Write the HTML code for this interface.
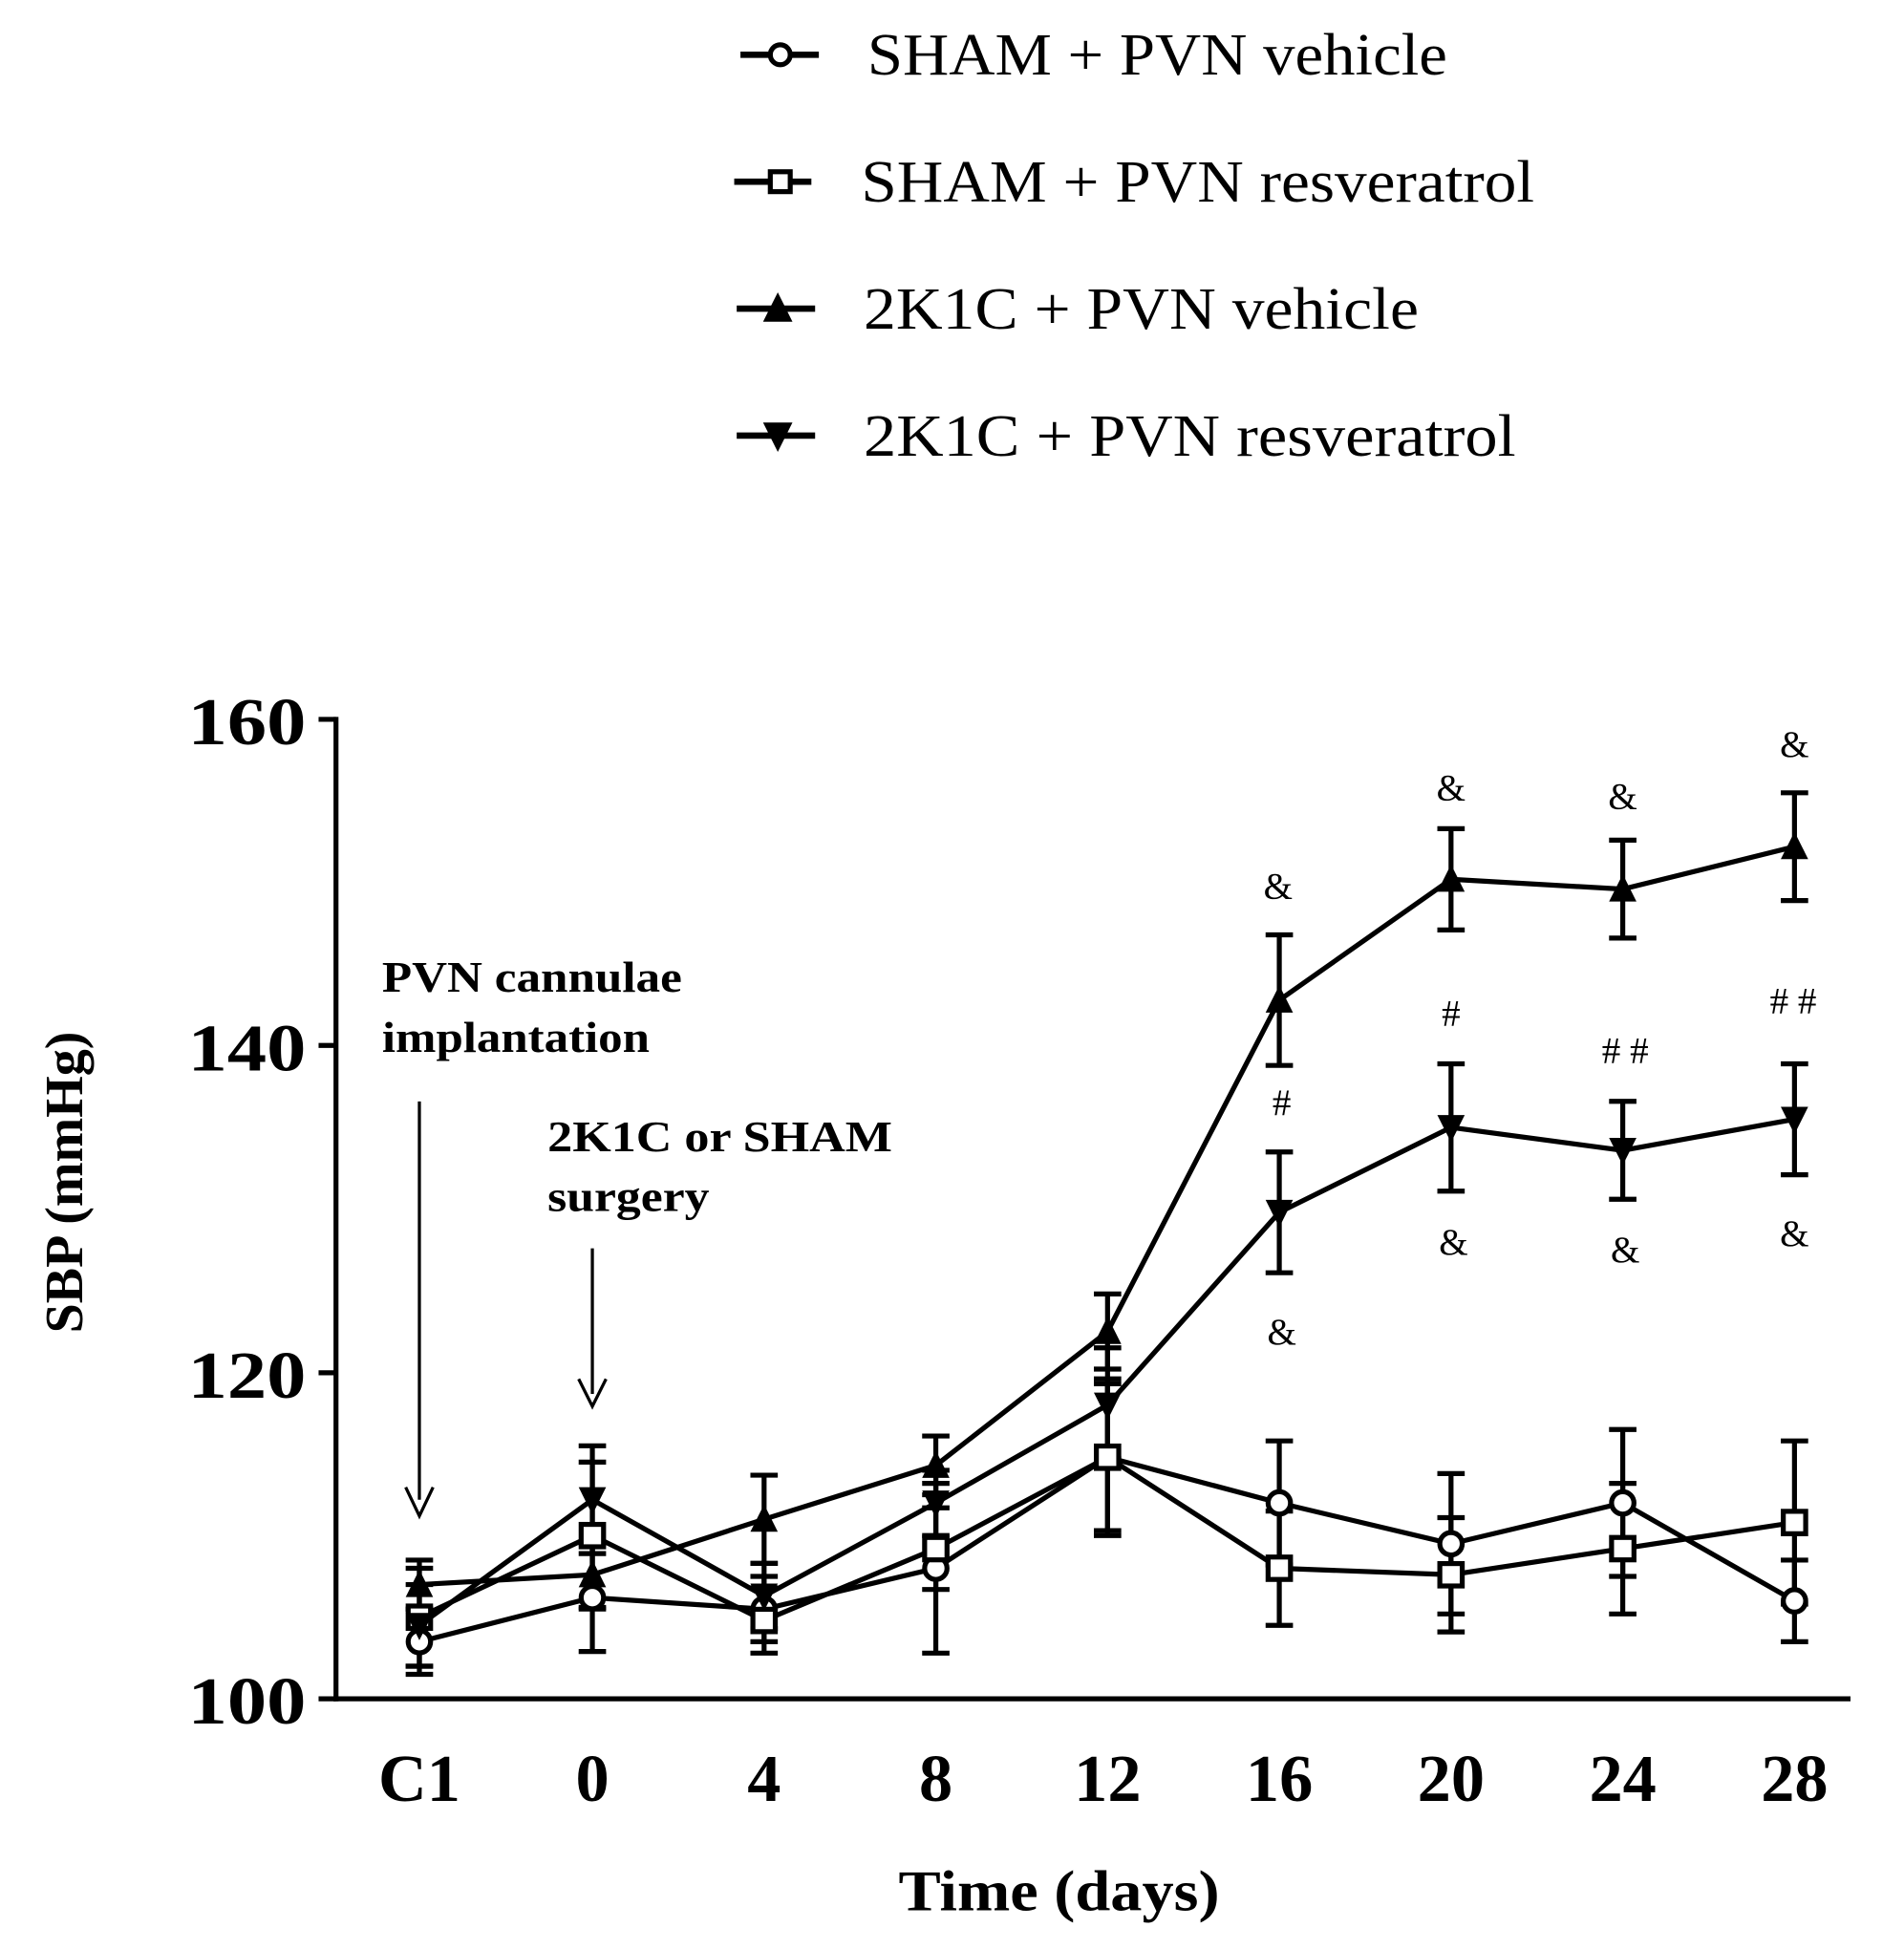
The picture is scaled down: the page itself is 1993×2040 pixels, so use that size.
<!DOCTYPE html>
<html><head><meta charset="utf-8"><style>
html,body{margin:0;padding:0;background:#fff;}
svg{display:block;}
text{font-family:"Liberation Serif",serif;fill:#000;}
</style></head><body>
<svg id="s" width="1993" height="2040" viewBox="0 0 1530 1566" preserveAspectRatio="none" xmlns="http://www.w3.org/2000/svg">
<g stroke="#000" stroke-width="4" fill="none">
<line x1="270" y1="576" x2="270" y2="1367"/>
<line x1="268" y1="1365" x2="1487" y2="1365"/>
<line x1="256" y1="578" x2="270" y2="578"/>
<line x1="256" y1="840" x2="270" y2="840"/>
<line x1="256" y1="1103" x2="270" y2="1103"/>
<line x1="256" y1="1365" x2="270" y2="1365"/>
</g>
<g font-weight="bold" font-size="54" text-anchor="end">
<text x="246" y="598" textLength="95" lengthAdjust="spacingAndGlyphs">160</text><text x="246" y="860" textLength="95" lengthAdjust="spacingAndGlyphs">140</text><text x="246" y="1123" textLength="95" lengthAdjust="spacingAndGlyphs">120</text><text x="246" y="1385" textLength="95" lengthAdjust="spacingAndGlyphs">100</text>
</g>
<g font-weight="bold" font-size="54" text-anchor="middle">
<text x="337" y="1447">C1</text><text x="476" y="1447">0</text><text x="614" y="1447">4</text><text x="752" y="1447">8</text><text x="890" y="1447">12</text><text x="1028" y="1447">16</text><text x="1166" y="1447">20</text><text x="1304" y="1447">24</text><text x="1442" y="1447">28</text>
</g>
<text x="722" y="1535" font-weight="bold" font-size="46" textLength="258" lengthAdjust="spacingAndGlyphs">Time (days)</text>
<text transform="translate(66,950) rotate(-90)" font-weight="bold" font-size="43" text-anchor="middle">SBP (mmHg)</text>
<g font-weight="bold" font-size="35">
<text x="307" y="797" textLength="241" lengthAdjust="spacingAndGlyphs">PVN cannulae</text><text x="307" y="845" textLength="215" lengthAdjust="spacingAndGlyphs">implantation</text>
<text x="440" y="925" textLength="277" lengthAdjust="spacingAndGlyphs">2K1C or SHAM</text><text x="440" y="973" textLength="130" lengthAdjust="spacingAndGlyphs">surgery</text>
</g>
<g stroke="#000" stroke-width="2.5" fill="#000">
<line x1="337" y1="885" x2="337" y2="1205"/><path d="M326 1195 L337 1218 L348 1195" fill="none"/>
<line x1="476" y1="1003" x2="476" y2="1120"/><path d="M465 1108 L476 1130 L487 1108" fill="none"/>
</g>
<g font-size="30" text-anchor="middle">
<text x="1027" y="722">&amp;</text><text x="1166" y="643">&amp;</text><text x="1304" y="650">&amp;</text><text x="1442" y="608">&amp;</text>
<text x="1030" y="896">#</text><text x="1166" y="824">#</text><text x="1306" y="854"># #</text><text x="1441" y="814"># #</text>
<text x="1030" y="1080">&amp;</text><text x="1168" y="1008">&amp;</text><text x="1306" y="1014">&amp;</text><text x="1442" y="1001">&amp;</text>
</g>
<g id="data"></g>
<g font-size="48">
<text x="697" y="60" textLength="466" lengthAdjust="spacingAndGlyphs">SHAM + PVN vehicle</text>
<text x="692" y="162" textLength="541" lengthAdjust="spacingAndGlyphs">SHAM + PVN resveratrol</text>
<text x="694" y="264" textLength="446" lengthAdjust="spacingAndGlyphs">2K1C + PVN vehicle</text>
<text x="694" y="366" textLength="524" lengthAdjust="spacingAndGlyphs">2K1C + PVN resveratrol</text>
</g>
<g stroke="#000" stroke-width="5" fill="#000">
<line x1="595" y1="44" x2="658" y2="44"/><circle cx="627" cy="44" r="8" fill="#fff" stroke-width="4"/>
<line x1="590" y1="146" x2="652" y2="146"/><rect x="619" y="138" width="16" height="16" fill="#fff" stroke-width="4"/>
<line x1="592" y1="248" x2="655" y2="248"/><path d="M614 258 L625 236 L636 258 Z" stroke-width="1"/>
<line x1="592" y1="350" x2="655" y2="350"/><path d="M614 340 L625 362 L636 340 Z" stroke-width="1"/>
</g>
</svg>
<script>
var X=[337,476,614,752,890,1028,1166,1304,1442];
function Y(v){return 1365-(v-100)*13.117;}
var S=[
{t:'c',m:[103.5,106.2,105.5,108,114.8,112,109.5,112,106],e:[2,3.3,2,5.2,4.5,3.8,4.3,4.5,2.5]},
{t:'s',m:[105,110,104.8,109.2,114.8,108,107.6,109.2,110.8],e:[3,4.5,2,2.5,4.8,3.5,3.5,4,5]},
{t:'u',m:[107,107.6,111,114.3,122.5,142.8,150.2,149.6,152.2],e:[1.5,2,2.7,1.8,2.3,4,3.1,3,3.3]},
{t:'d',m:[104.5,112.2,106.3,112,118,129.8,135,133.6,135.5],e:[2.5,3.3,2,2,3.5,3.7,3.9,3,3.4]}];
var h='';
S.forEach(function(s){
 var p=s.m.map(function(v,i){return X[i]+','+Y(v).toFixed(1);}).join(' ');
 h+='<polyline points="'+p+'" fill="none" stroke="#000" stroke-width="4"/>';
 s.m.forEach(function(v,i){
  var x=X[i],a=Y(v+s.e[i]),b=Y(v-s.e[i]);
  h+='<line x1="'+x+'" y1="'+a+'" x2="'+x+'" y2="'+b+'" stroke="#000" stroke-width="4"/>';
  h+='<line x1="'+(x-11)+'" y1="'+a+'" x2="'+(x+11)+'" y2="'+a+'" stroke="#000" stroke-width="4"/>';
  h+='<line x1="'+(x-11)+'" y1="'+b+'" x2="'+(x+11)+'" y2="'+b+'" stroke="#000" stroke-width="4"/>';
 });
});
S.forEach(function(s){
 s.m.forEach(function(v,i){
  var x=X[i],y=Y(v);
  if(s.t=='c')h+='<circle cx="'+x+'" cy="'+y+'" r="9" fill="#fff" stroke="#000" stroke-width="4"/>';
  if(s.t=='s')h+='<rect x="'+(x-9)+'" y="'+(y-9)+'" width="18" height="18" fill="#fff" stroke="#000" stroke-width="4"/>';
  if(s.t=='u')h+='<path d="M'+(x-11)+' '+(y+10)+' L'+x+' '+(y-12)+' L'+(x+11)+' '+(y+10)+' Z" fill="#000"/>';
  if(s.t=='d')h+='<path d="M'+(x-11)+' '+(y-10)+' L'+x+' '+(y+12)+' L'+(x+11)+' '+(y-10)+' Z" fill="#000"/>';
 });
});
document.getElementById('data').innerHTML=h;
</script>
</body></html>
